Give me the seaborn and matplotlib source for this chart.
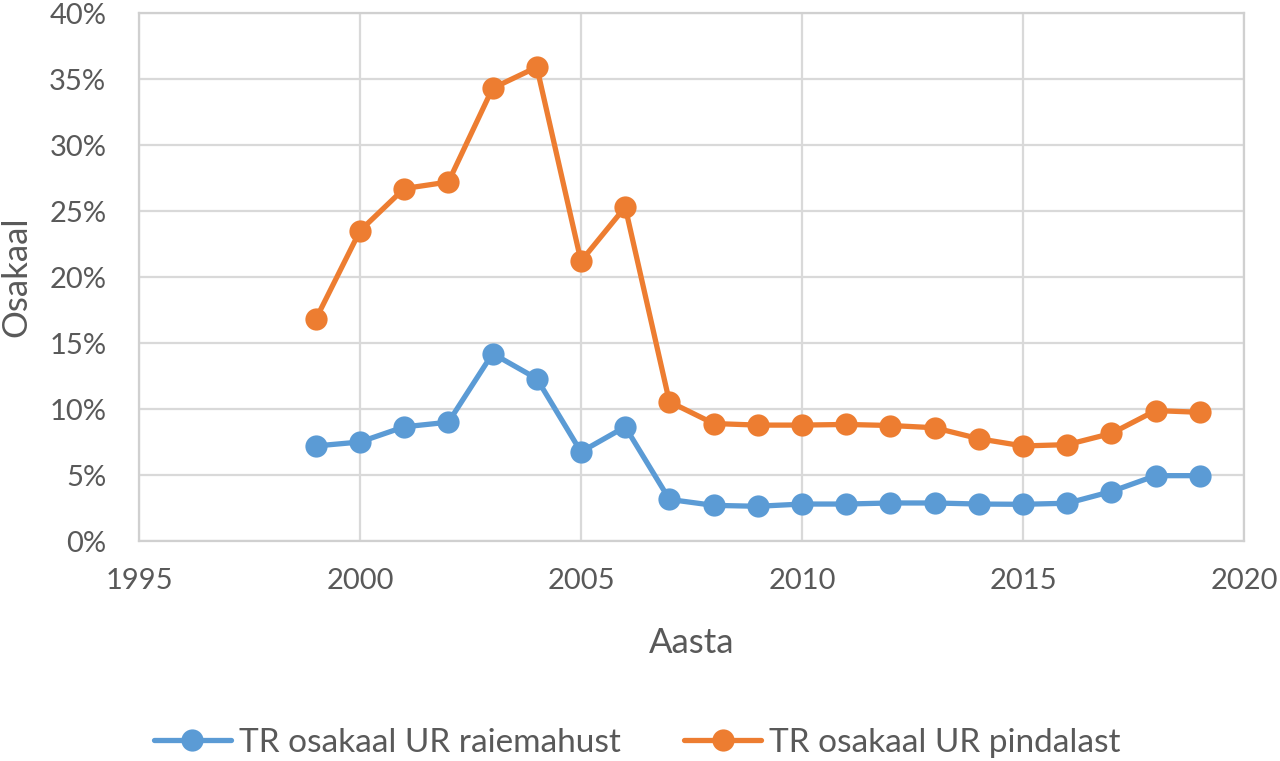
import pandas as pd
import seaborn as sns
import matplotlib.pyplot as plt
from matplotlib.ticker import PercentFormatter

years = list(range(1999, 2020))
raiemaht = [7.2, 7.5, 8.65, 9.0, 14.2, 12.3, 6.75, 8.65, 3.15, 2.7, 2.63, 2.8,
            2.8, 2.88, 2.88, 2.8, 2.78, 2.86, 3.75, 4.95, 4.95]
pindala = [16.8, 23.5, 26.7, 27.2, 34.3, 35.9, 21.2, 25.3, 10.55, 8.9, 8.78, 8.78,
           8.83, 8.75, 8.58, 7.75, 7.2, 7.3, 8.15, 9.88, 9.75]
series = ["TR osakaal UR raiemahust", "TR osakaal UR pindalast"]

data = pd.DataFrame({
    "Aasta": years * 2,
    "Osakaal": raiemaht + pindala,
    "type": [series[0]] * len(years) + [series[1]] * len(years),
})

sns.set_style("white")
plt.rcParams["font.family"] = ["Lato", "DejaVu Sans"]
grey_txt = "#595959"

fig = plt.figure(figsize=(12.8, 7.61), dpi=100)
ax = fig.add_axes([139 / 1280, 1 - 541 / 761, (1244 - 139) / 1280, (541 - 13) / 761])

pal = {series[0]: "#5B9BD5", series[1]: "#ED7D31"}
sns.lineplot(data=data, x="Aasta", y="Osakaal", hue="type", palette=pal,
             marker="o", markersize=16, markeredgewidth=0, linewidth=3.8, ax=ax)

ax.set_xlim(1995, 2020)
ax.set_ylim(0, 40)
ax.set_xticks(range(1995, 2021, 5))
ax.set_yticks(range(0, 41, 5))
ax.yaxis.set_major_formatter(PercentFormatter(decimals=0))
ax.grid(color="#D9D9D9", linewidth=1.6)
ax.set_axisbelow(True)
ax.tick_params(left=False, bottom=False, labelsize=21, colors=grey_txt)
ax.tick_params(axis="y", pad=20)
ax.tick_params(axis="x", pad=16)
for s in ax.spines.values():
    s.set_color("#D0D0D0")
    s.set_linewidth(1.6)

ax.set_xlabel("Aasta", fontsize=25, color=grey_txt, va="center")
ax.set_ylabel("Osakaal", fontsize=25, color=grey_txt, va="center")
ax.xaxis.set_label_coords(0.5, (541 - 643) / 528)
ax.yaxis.set_label_coords((16 - 139) / 1105, 0.5)

handles, labels = ax.get_legend_handles_labels()
ax.get_legend().remove()
fig.legend(handles=handles, labels=labels, loc="center", bbox_to_anchor=(0.498, 0.024),
           ncol=2, frameon=False, fontsize=24, handlelength=2.3, handletextpad=0.25,
           columnspacing=1.9, labelcolor=grey_txt)

fig.savefig("out.png", dpi=100)
